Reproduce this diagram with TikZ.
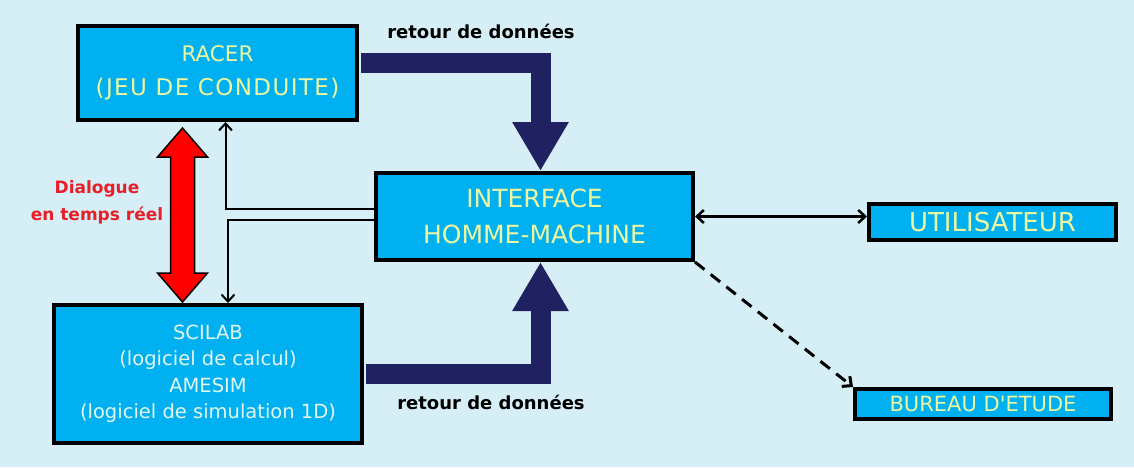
\documentclass[tikz,border=0pt]{standalone}
\usepackage{fontspec}
\setmainfont{DejaVu Sans}
\usetikzlibrary{arrows.meta,calc}
\definecolor{fond}{RGB}{214,238,246}
\definecolor{boxblue}{RGB}{0,176,240}
\definecolor{boxtext}{RGB}{236,247,160}
\definecolor{scitext}{RGB}{226,246,236}
\definecolor{navy}{RGB}{31,33,96}
\definecolor{rouge}{RGB}{255,0,0}
\definecolor{rougetexte}{RGB}{232,30,40}
\begin{document}
\begin{tikzpicture}[x=1pt,y=-1pt,>={Straight Barb[length=7pt,width=13pt]},
	box/.style={draw=black,line width=4pt,fill=boxblue,text=boxtext,align=center,inner sep=0pt},
	retour/.style={draw=navy,line width=20pt,line join=miter,shorten <=2pt,-{Triangle[length=49pt,width=53pt]}},
	fleche/.style={line width=2pt,->},
	lbl/.style={font=\bfseries\fontsize{18}{24}\selectfont}]
	\fill[fond] (0,0) rectangle (1134,467);
	\useasboundingbox (0,0) rectangle (1134,467);
	\node[box,minimum width=279pt,minimum height=94pt,font=\fontsize{21.5}{34}\selectfont] (racer) at (217.5,73) {RACER\\{\fontsize{23}{34}\selectfont\addfontfeatures{LetterSpace=6}(JEU DE CONDUITE)}};
	\node[box,minimum width=317pt,minimum height=87pt,font=\fontsize{25}{36}\selectfont] (iface) at (534.5,216.5) {INTERFACE\\HOMME-MACHINE};
	\node[box,minimum width=308pt,minimum height=138pt,text=scitext,font=\fontsize{19.5}{26.5}\selectfont] (scilab) at (208,374) {SCILAB\\(logiciel de calcul)\\AMESIM\\(logiciel de simulation 1D)};
	\node[box,minimum width=247pt,minimum height=36pt,font=\fontsize{26}{30}\selectfont] (util) at (992.5,222) {UTILISATEUR};
	\node[box,minimum width=256pt,minimum height=30pt,font=\fontsize{21}{25}\selectfont] (bureau) at (983,404) {BUREAU D\textquotesingle ETUDE};
	\node[lbl] (retourhaut) at (481,31) {retour de données};
	\node[lbl] (retourbas) at (491,402) {retour de données};
	\node[text=rougetexte,align=center,font=\bfseries\fontsize{17}{27}\selectfont] (dialogue) at (97,202) {Dialogue\\en temps réel};
	% retours de donnees
	\draw[retour] ([yshift=10pt]racer.east) -| ([xshift=6pt]iface.north);
	\draw[retour] (scilab.east) -| ([xshift=6pt]iface.south);
	% dialogue en temps reel
	\coordinate (dlgtop) at ([xshift=-35pt,yshift=-6pt]racer.south);
	\filldraw[fill=rouge,draw=black,line width=1.5pt,line join=miter] (dlgtop) -- ++(25,29) -- ++(-13,0) -- ++(0,116) -- ++(13,0) -- ++(-25,29) -- ++(-25,-29) -- ++(13,0) -- ++(0,-116) -- ++(-13,0) -- cycle;
	\draw[fleche] ([yshift=7.5pt]iface.west) -| ([xshift=8pt]racer.south);
	\draw[fleche] ([yshift=-3.5pt]iface.west) -| ([xshift=20pt]scilab.north);
	% sorties
	\draw[fleche,line width=2.5pt,<->] (iface.east) -- (iface.east -| util.west);
	\draw[line width=3pt,dash pattern=on 12pt off 8pt,-{Straight Barb[length=7pt,width=13pt]}] (iface.south east) -- (bureau.north west);
\end{tikzpicture}
\end{document}
